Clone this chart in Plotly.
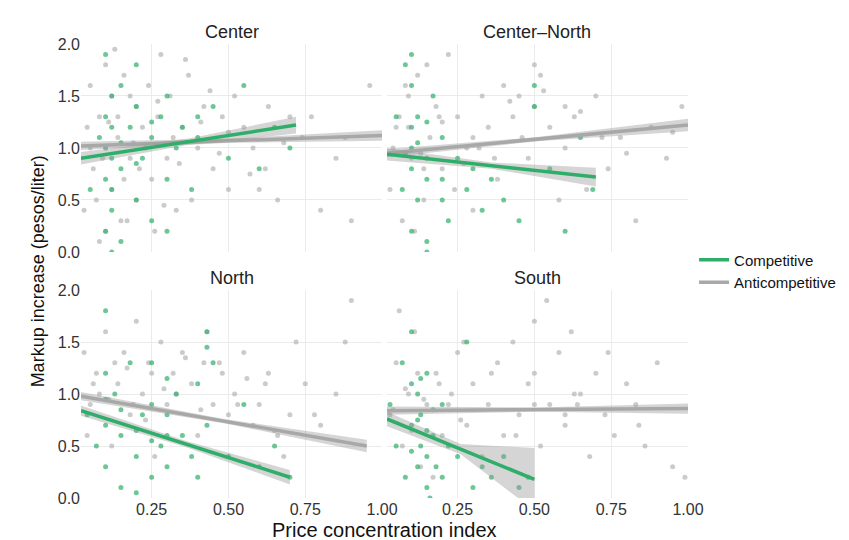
import plotly.graph_objects as go
from plotly.subplots import make_subplots

panels = ["Center", "Center\u2013North", "North", "South"]

# scatter points (subsample)
grey_x = {
    "Center": [0.03, 0.05, 0.06, 0.08, 0.1, 0.1, 0.12, 0.12, 0.14, 0.15, 0.16, 0.18, 0.2, 0.2, 0.22, 0.24, 0.25, 0.27, 0.28, 0.3, 0.31, 0.33, 0.35, 0.37, 0.4, 0.42, 0.45, 0.48, 0.5, 0.52, 0.55, 0.58, 0.6, 0.63, 0.66, 0.7, 0.74, 0.8, 0.85, 0.9, 0.96, 0.08, 0.13, 0.17, 0.21, 0.26, 0.32, 0.38, 0.44, 0.05, 0.11, 0.19, 0.29, 0.36, 0.47, 0.62, 0.77,
               0.04, 0.07, 0.09, 0.14, 0.16, 0.18, 0.23, 0.27, 0.34, 0.41, 0.5, 0.57, 0.68, 0.88],
    "Center\u2013North": [0.03, 0.05, 0.07, 0.09, 0.1, 0.12, 0.14, 0.16, 0.18, 0.2, 0.22, 0.25, 0.28, 0.3, 0.33, 0.35, 0.38, 0.4, 0.43, 0.46, 0.48, 0.5, 0.52, 0.55, 0.58, 0.6, 0.63, 0.67, 0.7, 0.74, 0.78, 0.83, 0.88, 0.93, 0.98, 0.06, 0.11, 0.15, 0.24, 0.32, 0.45, 0.5, 0.6, 0.72, 0.08, 0.13, 0.2, 0.27, 0.42,
                          0.04, 0.09, 0.14, 0.19, 0.3, 0.37, 0.53, 0.65, 0.8, 0.95],
    "North": [0.03, 0.05, 0.07, 0.1, 0.12, 0.14, 0.16, 0.18, 0.2, 0.22, 0.24, 0.26, 0.28, 0.3, 0.32, 0.35, 0.38, 0.4, 0.42, 0.45, 0.48, 0.5, 0.52, 0.55, 0.58, 0.6, 0.63, 0.66, 0.7, 0.75, 0.8, 0.85, 0.9, 0.04, 0.08, 0.13, 0.19, 0.25, 0.33, 0.43, 0.47, 0.53, 0.62, 0.68, 0.72, 0.78,
              0.06, 0.11, 0.17, 0.23, 0.29, 0.36, 0.41, 0.56, 0.65, 0.88],
    "South": [0.03, 0.05, 0.07, 0.09, 0.11, 0.13, 0.15, 0.18, 0.2, 0.23, 0.25, 0.28, 0.3, 0.33, 0.35, 0.38, 0.4, 0.43, 0.45, 0.48, 0.5, 0.52, 0.55, 0.58, 0.6, 0.62, 0.65, 0.68, 0.7, 0.73, 0.76, 0.8, 0.83, 0.86, 0.9, 0.95, 0.99, 0.06, 0.12, 0.17, 0.22, 0.27, 0.36, 0.44, 0.54, 0.64, 0.74, 0.84,
              0.04, 0.08, 0.1, 0.14, 0.19, 0.26, 0.5, 0.5, 0.6, 0.63],
}
grey_y = {
    "Center": [0.4, 1.6, 0.8, 1.3, 0.2, 1.8, 0.6, 1.5, 1.1, 0.3, 1.7, 0.9, 1.4, 0.5, 1.2, 1.6, 0.7, 1.3, 1.9, 0.9, 1.5, 0.4, 1.2, 1.7, 1.0, 1.4, 0.8, 1.3, 0.6, 1.5, 1.2, 1.0, 0.6, 1.4, 0.5, 1.3, 1.1, 0.4, 0.9, 0.3, 1.6, 0.1, 1.95, 0.3, 0.8, 0.2, 1.1, 0.5, 1.55, 1.0, 1.25, 1.05, 0.45, 1.85, 0.95, 0.8, 1.3,
               1.2, 0.5, 0.9, 1.3, 0.7, 1.5, 1.0, 1.45, 0.85, 1.25, 1.15, 0.75, 1.05, 1.1],
    "Center\u2013North": [0.6, 1.2, 0.3, 1.5, 0.9, 1.7, 0.5, 1.1, 1.4, 0.8, 1.9, 1.3, 1.0, 0.4, 1.5, 1.2, 0.7, 1.6, 1.3, 1.1, 0.9, 1.4, 1.7, 1.2, 0.5, 1.0, 1.3, 0.6, 1.5, 0.8, 1.1, 0.3, 1.2, 0.9, 1.4, 1.3, 0.2, 1.8, 0.6, 1.0, 1.5, 1.8, 1.4, 1.1, 1.6, 0.95, 1.25, 0.85, 1.45,
                          1.0, 1.2, 0.8, 1.3, 1.1, 0.9, 1.55, 1.35, 0.95, 1.15],
    "North": [1.4, 0.9, 1.2, 1.6, 0.5, 1.1, 1.4, 0.8, 1.7, 1.0, 1.3, 0.4, 1.5, 0.9, 1.2, 1.4, 1.1, 0.6, 1.3, 0.9, 1.2, 0.8, 1.0, 1.4, 0.7, 0.9, 1.2, 0.6, 0.8, 1.1, 0.7, 1.0, 1.9, 0.6, 1.0, 1.3, 0.9, 1.2, 1.0, 1.6, 1.3, 0.9, 1.1, 0.4, 1.5, 0.8,
              1.1, 0.95, 1.25, 0.75, 1.05, 1.35, 0.85, 1.15, 0.65, 1.5],
    "South": [0.8, 1.3, 0.5, 1.0, 1.6, 0.3, 0.9, 1.2, 0.6, 1.0, 1.4, 0.7, 1.1, 0.4, 0.9, 1.3, 0.6, 1.5, 0.8, 1.1, 1.7, 0.5, 0.9, 1.4, 0.7, 1.6, 1.0, 0.4, 1.2, 0.8, 0.6, 1.1, 0.9, 0.5, 1.3, 0.3, 0.2, 1.8, 1.2, 0.2, 0.9, 1.5, 1.2, 0.6, 1.9, 0.9, 1.4, 0.7,
              0.85, 1.05, 0.65, 0.95, 1.1, 0.75, 1.2, 0.9, 0.8, 1.0],
}
green_x = {
    "Center": [0.05, 0.08, 0.1, 0.1, 0.1, 0.12, 0.12, 0.15, 0.15, 0.15, 0.18, 0.2, 0.2, 0.22, 0.25, 0.25, 0.28, 0.3, 0.3, 0.33, 0.35, 0.38, 0.4, 0.4, 0.45, 0.5, 0.55, 0.6, 0.65, 0.7, 0.1, 0.12, 0.2, 0.3,
               0.12, 0.12, 0.12, 0.1, 0.15, 0.2, 0.25],
    "Center\u2013North": [0.05, 0.07, 0.08, 0.1, 0.1, 0.1, 0.12, 0.12, 0.15, 0.15, 0.17, 0.2, 0.2, 0.22, 0.25, 0.28, 0.3, 0.33, 0.36, 0.4, 0.45, 0.5, 0.5, 0.55, 0.6, 0.65, 0.69, 0.1, 0.15, 0.2,
                          0.1, 0.1, 0.12, 0.15, 0.15, 0.08],
    "North": [0.04, 0.07, 0.1, 0.1, 0.1, 0.13, 0.15, 0.15, 0.18, 0.2, 0.22, 0.25, 0.25, 0.25, 0.28, 0.3, 0.3, 0.33, 0.35, 0.38, 0.4, 0.4, 0.43, 0.43, 0.45, 0.5, 0.55, 0.6, 0.65, 0.7, 0.1, 0.2, 0.3,
              0.1, 0.15, 0.2, 0.25, 0.3, 0.43],
    "South": [0.03, 0.05, 0.07, 0.08, 0.1, 0.1, 0.12, 0.12, 0.13, 0.15, 0.15, 0.17, 0.18, 0.2, 0.2, 0.22, 0.25, 0.28, 0.3, 0.33, 0.36, 0.4, 0.45, 0.48, 0.1, 0.13, 0.16,
              0.12, 0.15, 0.15, 0.17, 0.13, 0.1],
}
green_y = {
    "Center": [0.6, 1.1, 1.9, 0.2, 1.0, 1.5, 0.4, 0.8, 1.6, 0.1, 1.2, 0.5, 1.4, 0.9, 1.1, 0.3, 1.3, 0.7, 1.5, 1.0, 1.2, 0.6, 1.1, 1.3, 1.4, 0.9, 1.6, 0.8, 1.2, 1.0, 0.7, 0.0, 1.8, 0.2,
               0.9, 1.2, 0.6, 1.3, 1.05, 0.85, 1.25],
    "Center\u2013North": [1.3, 0.6, 1.8, 0.2, 1.0, 1.6, 0.5, 1.3, 0.9, 0.1, 1.5, 0.7, 1.1, 0.3, 0.9, 0.6, 0.8, 0.4, 0.7, 0.5, 0.3, 1.6, 1.4, 0.8, 0.2, 1.1, 0.6, 1.9, 0.0, 0.5,
                          0.8, 1.2, 1.05, 1.25, 0.7, 0.95],
    "North": [0.8, 0.5, 1.2, 0.3, 0.7, 1.0, 0.1, 0.6, 1.3, 0.4, 0.8, 0.2, 0.9, 1.3, 0.5, 0.3, 0.8, 1.0, 0.6, 0.4, 0.2, 1.1, 1.6, 0.7, 1.3, 0.4, 0.9, 0.3, 0.5, 0.2, 1.8, 0.05, 0.6,
              0.95, 0.85, 0.65, 0.55, 1.15, 1.45],
    "South": [0.9, 0.5, 1.3, 0.2, 0.7, 1.6, 0.3, 1.0, 0.5, 0.1, 1.2, 0.6, 0.3, 0.9, 0.2, 0.5, 0.4, 1.5, 0.1, 0.3, 0.2, 0.4, 0.1, 0.2, 1.1, 0.8, 0.0,
              0.75, 0.65, 0.4, 0.85, 1.15, 0.45],
}

# fitted lines (x start/end, y start/end) and band half-widths (start, mid, end)
green_fit_x = {"Center": [0.02, 0.72], "Center\u2013North": [0.02, 0.7], "North": [0.02, 0.7], "South": [0.02, 0.5]}
green_fit_y = {"Center": [0.9, 1.22], "Center\u2013North": [0.94, 0.72], "North": [0.84, 0.2], "South": [0.76, 0.18]}
green_band = {"Center": [0.06, 0.03, 0.08], "Center\u2013North": [0.06, 0.03, 0.09], "North": [0.05, 0.03, 0.07], "South": [0.07, 0.05, 0.3]}
grey_fit_x = {"Center": [0.02, 1.0], "Center\u2013North": [0.02, 1.0], "North": [0.02, 0.95], "South": [0.02, 1.0]}
grey_fit_y = {"Center": [1.02, 1.12], "Center\u2013North": [0.95, 1.22], "North": [0.98, 0.5], "South": [0.84, 0.86]}
grey_band = {"Center": [0.04, 0.02, 0.05], "Center\u2013North": [0.04, 0.02, 0.06], "North": [0.04, 0.02, 0.06], "South": [0.04, 0.02, 0.05]}

GREEN = "#2fae6a"
GREY = "#b5b5b5"

fig = make_subplots(rows=2, cols=2, subplot_titles=panels,
                    horizontal_spacing=0.008, vertical_spacing=0.084,
                    shared_xaxes=True, shared_yaxes=True)

for i, p in enumerate(panels):
    r, c = i // 2 + 1, i % 2 + 1
    fig.add_trace(go.Scatter(x=grey_x[p], y=grey_y[p], mode="markers",
                             marker=dict(color=GREY, size=5, opacity=0.7),
                             showlegend=False, hoverinfo="skip"), row=r, col=c)
    fig.add_trace(go.Scatter(x=green_x[p], y=green_y[p], mode="markers",
                             marker=dict(color=GREEN, size=5, opacity=0.7),
                             showlegend=False, hoverinfo="skip"), row=r, col=c)
    for fx, fy, band, col, name, rank in [(grey_fit_x[p], grey_fit_y[p], grey_band[p], "#a8a8a8", "Anticompetitive", 2),
                                          (green_fit_x[p], green_fit_y[p], green_band[p], GREEN, "Competitive", 1)]:
        xm = (fx[0] + fx[1]) / 2
        ym = (fy[0] + fy[1]) / 2
        bx = [fx[0], xm, fx[1], fx[1], xm, fx[0]]
        by = [fy[0] + band[0], ym + band[1], fy[1] + band[2],
              fy[1] - band[2], ym - band[1], fy[0] - band[0]]
        fig.add_trace(go.Scatter(x=bx, y=by, fill="toself", mode="none",
                                 fillcolor="rgba(150,150,150,0.4)",
                                 showlegend=False, hoverinfo="skip"), row=r, col=c)
        fig.add_trace(go.Scatter(x=fx, y=fy, mode="lines", line=dict(color=col, width=3.5),
                                 name=name, legendgroup=name, legendrank=rank, showlegend=(i == 0),
                                 hoverinfo="skip"), row=r, col=c)

fig.update_xaxes(range=[0.02, 1.0], tickvals=[0.25, 0.5, 0.75, 1.0],
                 ticktext=["0.25", "0.50", "0.75", "1.00"], showgrid=True,
                 gridcolor="#ebebeb", zeroline=False, ticks="", tickfont=dict(size=16, color="#333"))
fig.update_yaxes(range=[0, 2.0], tickvals=[0, 0.5, 1.0, 1.5, 2.0],
                 ticktext=["0.0", "0.5", "1.0", "1.5", "2.0"], showgrid=True,
                 gridcolor="#ebebeb", zeroline=False, ticks="", tickfont=dict(size=16, color="#333"))
fig.update_annotations(font=dict(size=18, color="#222"))

fig.add_annotation(text="Price concentration index", x=0.5, y=-0.1, xref="paper", yref="paper",
                   showarrow=False, font=dict(size=20, color="#111"))
fig.add_annotation(text="Markup increase (pesos/liter)", x=-0.09, y=0.5, xref="paper", yref="paper",
                   showarrow=False, textangle=-90, font=dict(size=18, color="#111"))

fig.update_layout(
    width=849, height=540,
    margin=dict(l=73, r=169, t=36, b=50),
    paper_bgcolor="white", plot_bgcolor="white",
    font=dict(family="Liberation Sans, Arial, sans-serif"),
    legend=dict(x=1.01, y=0.5, yanchor="middle", font=dict(size=15, color="#111"),
                tracegroupgap=0, itemwidth=30),
)

fig.write_html("out.html")
